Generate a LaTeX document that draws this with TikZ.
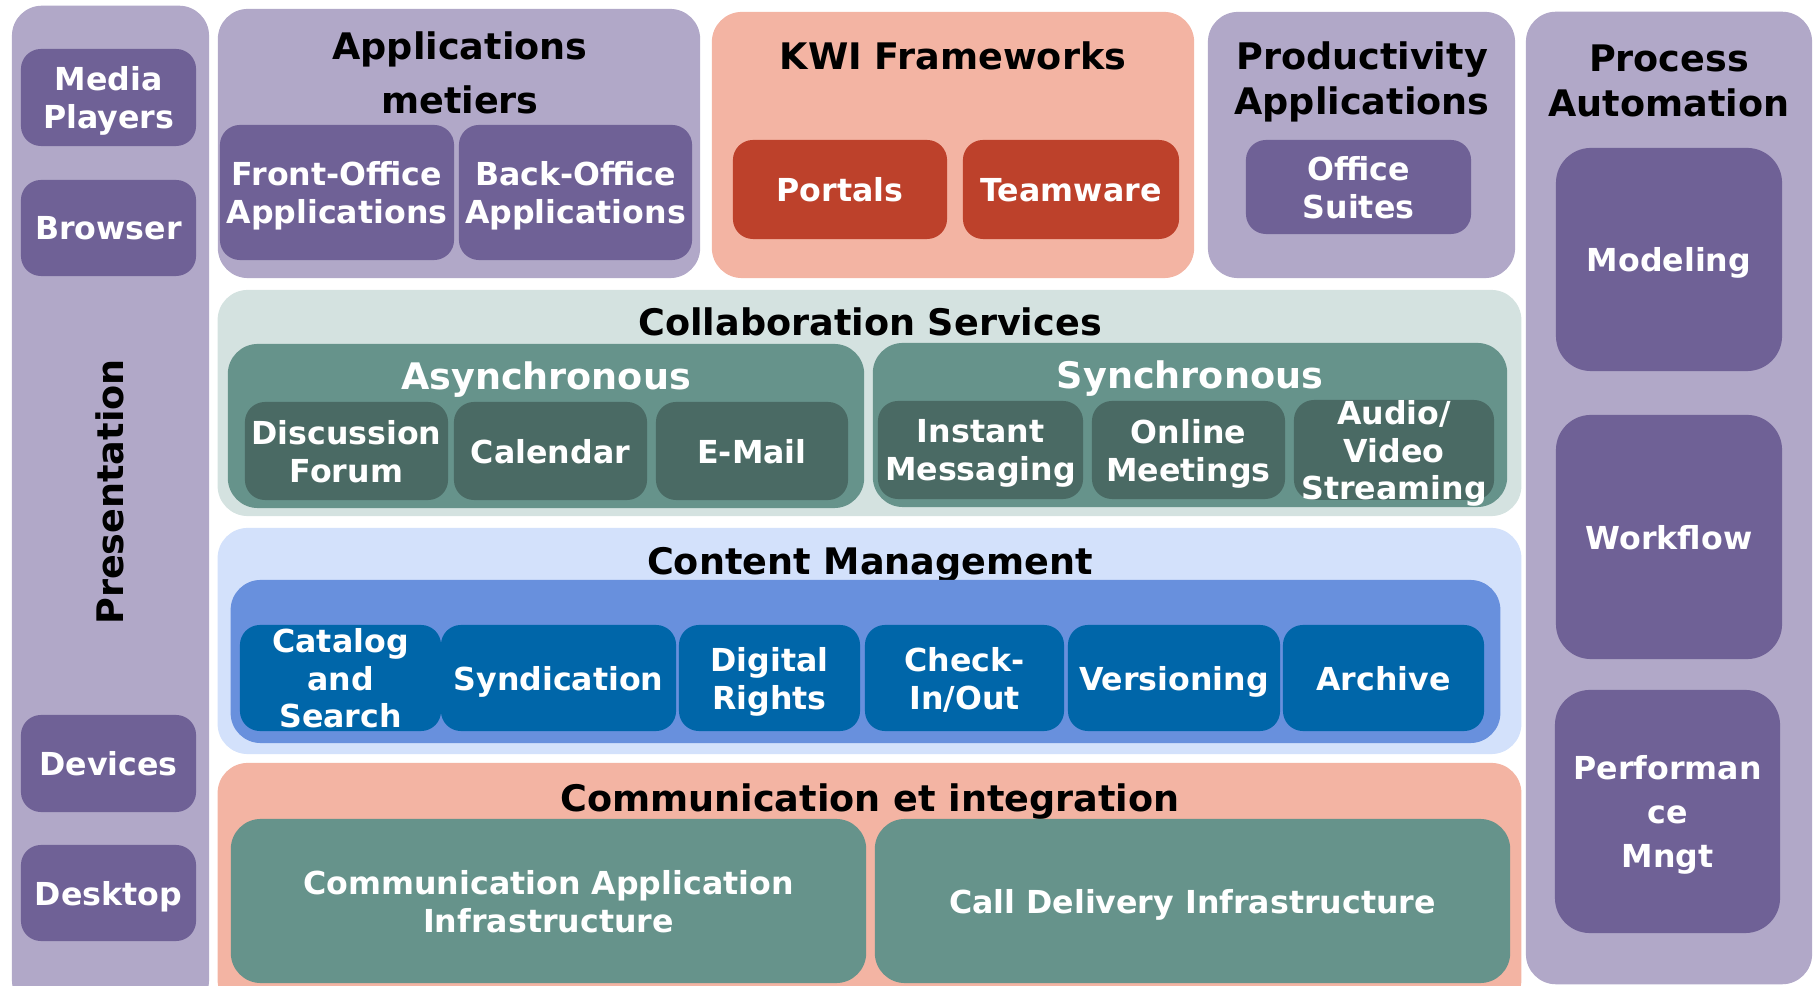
\documentclass[tikz,border=0pt]{standalone}
\usepackage{fontspec}
\setmainfont{DejaVu Sans}

\definecolor{lavender}{HTML}{B1A8C8}
\definecolor{plum}{HTML}{6F6196}
\definecolor{salmon}{HTML}{F3B4A3}
\definecolor{brick}{HTML}{BD412B}
\definecolor{mist}{HTML}{D4E2E0}
\definecolor{teal}{HTML}{66938B}
\definecolor{darkteal}{HTML}{4A6A64}
\definecolor{paleblue}{HTML}{D3E1FB}
\definecolor{midblue}{HTML}{6890DD}
\definecolor{deepblue}{HTML}{0066A9}

\newcommand\ttlfont{\fontsize{10.4}{12.8}\selectfont\bfseries}
\newcommand\boxfont{\fontsize{9}{10.8}\selectfont\bfseries}

\begin{document}
\begin{tikzpicture}[x=0.01cm, y=-0.01cm,
  panel/.style = {rounded corners = 0.3cm, inner sep = 0},
  box/.style = {rounded corners = 0.2cm, inner sep = 0, text = white,
    align = center, font = \boxfont, text depth = 0pt},
  title/.style = {align = center, font = \ttlfont, inner sep = 0, text depth = 0pt}]
  \useasboundingbox (0, 0) rectangle (1818, 986);
  \clip (0, 0) rectangle (1818, 986);

  % presentation column
  \node[panel, fill = lavender, minimum width = 1.97cm, minimum height = 10.04cm] (pres) at (110.5, 508) {};
  \node[title, rotate = 90] (prestitle) at (110, 492) {Presentation};
  \node[box, fill = plum, minimum width = 1.75cm, minimum height = 0.97cm] (media) at (108.5, 97.5) {Media\\Players};
  \node[box, fill = plum, minimum width = 1.75cm, minimum height = 0.96cm] (browser) at (108.5, 228) {Browser};
  \node[box, fill = plum, minimum width = 1.75cm, minimum height = 0.97cm] (devices) at (108.5, 763.5) {Devices};
  \node[box, fill = plum, minimum width = 1.75cm, minimum height = 0.96cm] (desktop) at (108.5, 893) {Desktop};

  % applications metiers
  \node[panel, fill = lavender, minimum width = 4.82cm, minimum height = 2.69cm] (appm) at (459, 143.5) {};
  \node[title, font = \fontsize{10.4}{15.4}\selectfont\bfseries] (appmtitle) at (460, 73) {Applications\\metiers};
  \node[box, fill = plum, minimum width = 2.34cm, minimum height = 1.35cm] (front) at (337, 192.5) {Front-Office\\Applications};
  \node[box, fill = plum, minimum width = 2.33cm, minimum height = 1.35cm] (back) at (575.5, 192.5) {Back-Office\\Applications};

  % KWI frameworks
  \node[panel, fill = salmon, minimum width = 4.82cm, minimum height = 2.66cm] (kwi) at (953, 145) {};
  \node[title] (kwititle) at (953, 56) {KWI Frameworks};
  \node[box, fill = brick, minimum width = 2.14cm, minimum height = 0.99cm] (portals) at (840, 189.5) {Portals};
  \node[box, fill = brick, minimum width = 2.16cm, minimum height = 0.99cm] (teamware) at (1071, 189.5) {Teamware};

  % productivity applications
  \node[panel, fill = lavender, minimum width = 3.07cm, minimum height = 2.66cm] (prod) at (1361.5, 145) {};
  \node[title] (prodtitle) at (1362, 78.5) {Productivity\\Applications};
  \node[box, fill = plum, minimum width = 2.25cm, minimum height = 0.94cm] (office) at (1358.5, 187) {Office\\Suites};

  % process automation
  \node[panel, fill = lavender, minimum width = 2.86cm, minimum height = 9.72cm] (proc) at (1669, 498) {};
  \node[title] (proctitle) at (1669, 80.5) {Process\\Automation};
  \node[box, fill = plum, rounded corners = 0.35cm, minimum width = 2.26cm, minimum height = 2.23cm] (modeling) at (1669, 259.5) {Modeling};
  \node[box, fill = plum, rounded corners = 0.35cm, minimum width = 2.26cm, minimum height = 2.44cm] (workflow) at (1669, 537) {Workflow};
  \node[box, fill = plum, rounded corners = 0.35cm, minimum width = 2.25cm, minimum height = 2.43cm,
    font = \fontsize{9}{12.4}\selectfont\bfseries] (perf) at (1667.5, 811.5) {Performan\\ce\\Mngt};

  % collaboration services
  \node[panel, fill = mist, minimum width = 13.03cm, minimum height = 2.26cm] (collab) at (869.5, 403) {};
  \node[title] (collabtitle) at (870, 322) {Collaboration Services};
  \node[panel, fill = teal, minimum width = 6.36cm, minimum height = 1.64cm] (async) at (546, 426) {};
  \node[title, text = white] (asynctitle) at (546, 376) {Asynchronous};
  \node[box, fill = darkteal, minimum width = 2.03cm, minimum height = 0.98cm] (disc) at (346.5, 451) {Discussion\\Forum};
  \node[box, fill = darkteal, minimum width = 1.93cm, minimum height = 0.98cm] (calendar) at (550.5, 451) {Calendar};
  \node[box, fill = darkteal, minimum width = 1.92cm, minimum height = 0.98cm] (email) at (752, 451) {E-Mail};
  \node[panel, fill = teal, minimum width = 6.34cm, minimum height = 1.64cm] (sync) at (1190, 425) {};
  \node[title, text = white] (synctitle) at (1190, 375) {Synchronous};
  \node[box, fill = darkteal, minimum width = 2.05cm, minimum height = 0.98cm] (instant) at (980.5, 450) {Instant\\Messaging};
  \node[box, fill = darkteal, minimum width = 1.93cm, minimum height = 0.98cm] (online) at (1188.5, 450) {Online\\Meetings};
  \node[box, fill = darkteal, minimum width = 2.00cm, minimum height = 0.98cm] (audio) at (1394, 450) {Audio/\\Video\\Streaming};

  % content management
  \node[panel, fill = paleblue, minimum width = 13.03cm, minimum height = 2.26cm] (content) at (869.5, 641) {};
  \node[title] (contenttitle) at (870, 561) {Content Management};
  \node[panel, fill = midblue, minimum width = 12.69cm, minimum height = 1.63cm] (cmblue) at (865.5, 661.5) {};
  \node[box, fill = deepblue, minimum width = 2.01cm, minimum height = 1.06cm] (catalog) at (340.5, 678) {Catalog\\and\\Search};
  \node[box, fill = deepblue, minimum width = 2.35cm, minimum height = 1.06cm] (synd) at (558.5, 678) {Syndication};
  \node[box, fill = deepblue, minimum width = 1.81cm, minimum height = 1.06cm] (digital) at (769.5, 678) {Digital\\Rights};
  \node[box, fill = deepblue, minimum width = 1.99cm, minimum height = 1.06cm] (checkio) at (964.5, 678) {Check-\\In/Out};
  \node[box, fill = deepblue, minimum width = 2.12cm, minimum height = 1.06cm] (versioning) at (1174, 678) {Versioning};
  \node[box, fill = deepblue, minimum width = 2.01cm, minimum height = 1.06cm] (archive) at (1383.5, 678) {Archive};

  % communication et integration
  \node[panel, fill = salmon, minimum width = 13.03cm, minimum height = 2.47cm] (comm) at (869.5, 886.5) {};
  \node[title] (commtitle) at (870, 798) {Communication et integration};
  \node[box, fill = teal, rounded corners = 0.3cm, minimum width = 6.35cm, minimum height = 1.64cm] (commapp) at (548.5, 901) {Communication Application\\Infrastructure};
  \node[box, fill = teal, rounded corners = 0.3cm, minimum width = 6.35cm, minimum height = 1.64cm] (calldel) at (1192.5, 901) {Call Delivery Infrastructure};
\end{tikzpicture}
\end{document}
